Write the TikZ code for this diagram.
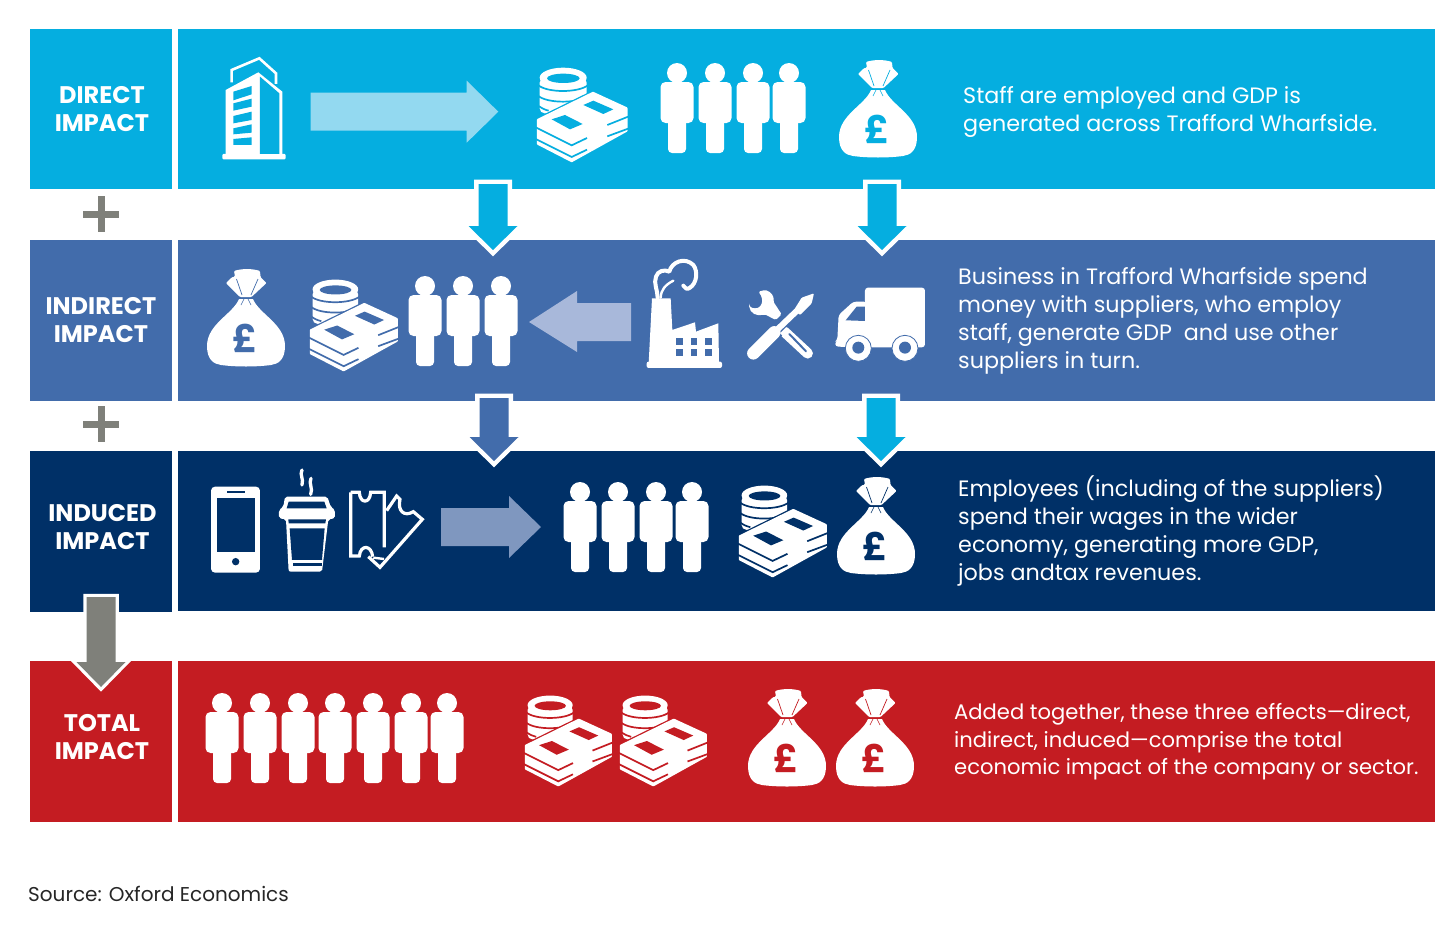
\documentclass[tikz,border=0pt]{standalone}
\usepackage{fontspec}
\setmainfont{Poppins}
\usetikzlibrary{calc}
\definecolor{cblue}{HTML}{05AEE0}
\definecolor{cmid}{HTML}{426CAB}
\definecolor{cnavy}{HTML}{003067}
\definecolor{cred}{HTML}{C41C22}
\definecolor{cgray}{HTML}{7F807A}
\definecolor{lightblue}{HTML}{93D9F0}
\definecolor{lightmid}{HTML}{A8B8DA}
\definecolor{lightnavy}{HTML}{7F97BF}
\tikzset{
  bar/.style={fill=#1,draw=none,inner sep=0,anchor=north west},
  lab/.style={font=\bfseries\fontsize{24}{28}\selectfont,text=white,align=center,inner sep=0},
  desc/.style={font=\fontsize{22.25}{27.8}\selectfont,text=white,align=left,inner sep=0,anchor=west},
  plusmark/.style={draw=cgray,line width=7pt},
  zoomed/.style={x=0.3333pt,y=-0.3333pt}
}
% person: origin at head centre
\newcommand\person[2]{\begin{scope}[shift={(#1,#2)}]
  \fill[white] (0,0) circle (10pt);
  \fill[white,rounded corners=5pt] (-16.5,9) rectangle (16.5,50);
  \fill[white,rounded corners=4pt] (-9,40) rectangle (9,80);
\end{scope}}
% money bag: origin at bottom centre
\newcommand\moneybag[4]{\begin{scope}[shift={(#1,#2)}]
  \fill[white] (-7,-67) .. controls (-13,-52) and (-39,-42) .. (-39,-20) .. controls (-39,-6) and (-32,-2) .. (-25,-1) .. controls (-10,1) and (10,1) .. (25,-1) .. controls (32,-2) and (39,-6) .. (39,-20) .. controls (39,-42) and (13,-52) .. (7,-67) -- cycle;
  \fill[white,rounded corners=1pt] (-12,-95) .. controls (-4,-97.5) and (6,-97.5) .. (14,-95) -- (14.5,-89) -- (20.5,-83) -- (5.5,-69) -- (-6,-69) -- (-20,-83) -- (-14.5,-88.5) -- (-11,-89.5) -- cycle;
  \draw[#3,line width=.7pt] (-9.5,-87) -- (-4,-71);
  \draw[#3,line width=.7pt] (12,-87) -- (5,-71);
  \draw[#3,line width=.8pt] (-7,-68) -- (7,-68);
  \draw[#3,line width=.6pt] (-2,-67) -- (-5,-61);
  \draw[#3,line width=.6pt] (2,-67) -- (5,-61);
  \node[inner sep=0,text=#3,font=\bfseries\fontsize{38}{38}\selectfont] (pound#4) at (-1,-28) {£};
\end{scope}}
% coins and notes: origin at top left; #4 scale
\newcommand\cash[4]{\begin{scope}[shift={(#1,#2)},x=#4*0.3333pt,y=-#4*0.3333pt]
  \fill[white,rounded corners=5pt] (8,38) rectangle (149,145);
  \fill[white] (78.5,38) ellipse [x radius=70.5,y radius=30];
  \fill[#3] (79,40) ellipse [x radius=49,y radius=14];
  \draw[#3,line width=1.7pt] (3,60) .. controls (30,84) and (125,84) .. (154,60);
  \draw[#3,line width=1.7pt] (3,92) .. controls (30,116) and (125,116) .. (154,92);
  \draw[#3,line width=1.7pt] (3,122) .. controls (15,130) and (25,135) .. (35,137);
  % notes: outline gap, then solid stack
  \draw[#3,line width=5pt,line join=round] (3,165) -- (168,84) -- (268,130) -- (268,197) -- (104,288) -- (3,236) -- cycle;
  \filldraw[fill=white,draw=white,line width=2.4pt,line join=round] (3,165) -- (168,84) -- (268,130) -- (268,197) -- (104,288) -- (3,236) -- cycle;
  % layer gaps
  \draw[#3,line width=1.7pt] (-6,186) -- (104,241) -- (150,219);
  \draw[#3,line width=1.7pt] (-6,221) -- (104,276) -- (150,254);
  \draw[#3,line width=1.7pt] (276,154) -- (211,180);
  \draw[#3,line width=1.7pt] (276,190) -- (211,214);
  % note windows
  \fill[#3] (44,163) -- (84,150) -- (137,177) -- (99,193) -- cycle;
  \fill[#3] (139,120) -- (169,107) -- (229,133) -- (199,147) -- cycle;
\end{scope}}
% block arrows between named coordinates: start, end, fill, shoulder distance, outline
\newcommand\blockdown[5]{%
  \path[preaction={draw=white,line width=#5,miter limit=10},fill=#3]
   ($(#1)+(-14.5,0)$) -- ($(#2)+(-14.5,-#4)$) -- ($(#2)+(-24.5,-#4)$) -- (#2) -- ($(#2)+(24.5,-#4)$) -- ($(#2)+(14.5,-#4)$) -- ($(#1)+(14.5,0)$) -- cycle;}
\begin{document}
\begin{tikzpicture}[x=1pt,y=-1pt]
\useasboundingbox (0,0) rectangle (1456,926);
\fill[white] (0,0) rectangle (1456,926);
% bars
\node[bar=cblue,minimum width=142pt,minimum height=160pt] (l1) at (30,29) {};
\node[bar=cblue,minimum width=1257pt,minimum height=160pt] (r1) at (178,29) {};
\node[bar=cmid,minimum width=142pt,minimum height=160.5pt] (l2) at (30,240) {};
\node[bar=cmid,minimum width=1257pt,minimum height=160.5pt] (r2) at (178,240) {};
\node[bar=cnavy,minimum width=142pt,minimum height=161pt] (l3) at (30,451) {};
\node[bar=cnavy,minimum width=1257pt,minimum height=160pt] (r3) at (178,451) {};
\node[bar=cred,minimum width=142pt,minimum height=161pt] (l4) at (30,661) {};
\node[bar=cred,minimum width=1257pt,minimum height=161pt] (r4) at (178,661) {};
% labels
\node[lab] (t1) at (102,109) {DIRECT\\IMPACT};
\node[lab] (t2) at (101,320) {INDIRECT\\IMPACT};
\node[lab] (t3) at (102.5,527) {INDUCED\\IMPACT};
\node[lab] (t4) at (102,737) {TOTAL\\IMPACT};
% plus marks
\foreach \py in {214,424}{
  \draw[plusmark] (83,\py) -- (119,\py);
  \draw[plusmark] (101,\py-18) -- (101,\py+18);}
% descriptions
\node[desc] (d1) at (963,112) {Staff are employed and GDP is\\generated across Trafford Wharfside.};
\node[desc] (d2) at (958,321) {Business in Trafford Wharfside spend\\money with suppliers, who employ\\staff, generate GDP~ and use other\\suppliers in turn.};
\node[desc] (d3) at (958,531) {Employees (including of the suppliers)\\spend their wages in the wider\\economy, generating more GDP,\\jobs andtax revenues.};
\node[desc,font=\fontsize{21.1}{27.5}\selectfont] (d4) at (954,742) {Added together, these three effects—direct,\\indirect, induced—comprise the total\\economic impact of the company or sector.};
\node[inner sep=0,anchor=west,font=\fontsize{20}{24}\selectfont,text=black!85] (src) at (28,894) {Source: Oxford Economics};
% horizontal arrows
\fill[lightblue] (310.7,92.7) -- (466.7,92.7) -- (466.7,80.7) -- (498.3,111.7) -- (466.7,142.7) -- (466.7,130.7) -- (310.7,130.7) -- cycle;
\fill[lightmid] (631,303) -- (577,303) -- (577,291) -- (529,322) -- (577,352) -- (577,341) -- (631,341) -- cycle;
\fill[lightnavy] (441,508) -- (509,508) -- (509,496) -- (541,527) -- (509,558) -- (509,546) -- (441,546) -- cycle;
% down arrows
\coordinate (a1s) at (493,184); \coordinate (a1e) at (493,250);
\coordinate (a2s) at (882,184); \coordinate (a2e) at (882,250);
\coordinate (a3s) at (494,398); \coordinate (a3e) at (494,461);
\coordinate (a4s) at (881,398); \coordinate (a4e) at (881,461);
\coordinate (a5s) at (101,597); \coordinate (a5e) at (101,687);
\blockdown{a1s}{a1e}{cblue}{24}{9pt}
\blockdown{a2s}{a2e}{cblue}{24}{9pt}
\blockdown{a3s}{a3e}{cmid}{24}{9pt}
\blockdown{a4s}{a4e}{cblue}{24}{9pt}
\blockdown{a5s}{a5e}{cgray}{25}{6.5pt}
% people
\foreach \px in {677,715,753,789} {\person{\px}{73}}
\foreach \px in {425,463,501} {\person{\px}{286}}
\foreach \px in {580,618,656,692} {\person{\px}{492}}
\foreach \px in {222,260,298,335,373,411,447} {\person{\px}{703}}
% bags
\moneybag{878}{157}{cblue}{a}
\moneybag{246}{366}{cmid}{b}
\moneybag{876}{574}{cnavy}{c}
\moneybag{787}{786}{cred}{d}
\moneybag{875}{786}{cred}{e}
% cash
\cash{537}{65}{cblue}{1}
\cash{310}{277}{cmid}{0.97}
\cash{739}{483}{cnavy}{0.97}
\cash{525}{693}{cred}{0.96}
\cash{620}{693}{cred}{0.96}
% building
\begin{scope}[shift={(200,40)},zoomed]
  \fill[white,rounded corners=1pt] (67,342) rectangle (257,358);
  \fill[white] (77,150) -- (175,97) -- (247,155) -- (247,345) -- (77,345) -- cycle;
  \fill[cblue] (180,110) -- (238,160) -- (238,342) -- (180,342) -- cycle;
  \fill[cblue] (100,155) -- (155,138) -- (155,163) -- (100,181) -- cycle;
  \fill[cblue] (100,190) -- (155,176) -- (155,200) -- (100,212) -- cycle;
  \fill[cblue] (100,228) -- (155,215) -- (155,240) -- (100,250) -- cycle;
  \fill[cblue] (100,265) -- (155,253) -- (155,278) -- (100,283) -- cycle;
  \fill[cblue] (100,297) -- (155,292) -- (155,315) -- (100,315) -- cycle;
  \draw[white,line width=2.6pt] (95,127) -- (95,90) -- (178,55) -- (228,100) -- (228,132);
\end{scope}
% factory and truck
\begin{scope}[shift={(640,40)},zoomed]
  \fill[white,rounded corners=2pt] (20,965) rectangle (246,984);
  \fill[white] (36,775) -- (92,775) -- (97,870) -- (165,847) -- (168,875) -- (235,850) -- (237,970) -- (26,970) -- cycle;
  \foreach \wx in {108,152,195}\foreach \wy in {895,928}{\fill[cmid] (\wx,\wy) rectangle +(20,20);}
  % truck
  \fill[white,rounded corners=3pt] (675,743) rectangle (855,922);
  \fill[white,rounded corners=3pt] (680,785) -- (640,785) -- (596,825) -- (592,900) -- (586,905) -- (586,920) -- (680,922) -- cycle;
  \fill[cmid] (675,800) -- (650,800) -- (617,841) -- (675,843) -- cycle;
  \fill[cmid] (600,923) rectangle (855,942);
  \foreach \wx in {655,795}{
    \filldraw[fill=white,draw=cmid,line width=.8pt] (\wx,925) circle (13pt);
    \fill[cmid] (\wx,923) circle (6pt);}
\end{scope}
% smoke
\begin{scope}[shift={(645,255)},zoomed]
  \draw[white,line width=4pt,line join=round,line cap=round] (38,128) .. controls (38,105) and (25,85) .. (33,65) .. controls (38,48) and (58,42) .. (73,50) .. controls (80,20) and (120,5) .. (145,30) .. controls (160,50) and (155,85) .. (135,98) .. controls (128,105) and (118,100) .. (115,92);
  \draw[white,line width=2.4pt,line cap=round] (47,128) .. controls (48,105) and (60,90) .. (85,77);
\end{scope}
% tools
\begin{scope}[shift={(745,285)},zoomed]
  \fill[white,rounded corners=1.5pt] (12,60) .. controls (20,72) and (40,72) .. (48,60) .. controls (54,48) and (50,32) .. (40,20) -- (60,15) .. controls (78,20) and (88,35) .. (85,50) -- (110,88) -- (92,105) -- (60,88) .. controls (35,95) and (15,85) .. (12,60) -- cycle;
  \draw[white,line width=10.5pt,line cap=round] (118,140) -- (188,205);
  \draw[cmid,line width=2pt,line cap=round] (133,147) -- (183,199);
  \draw[cmid,line width=15.5pt] (45,185) -- (95,135);
  \draw[cmid,line width=9pt] (95,135) -- (130,100);
  \draw[white,line width=12.5pt,line cap=round] (25,205) -- (88,142);
  \draw[white,line width=6pt] (85,145) -- (155,78);
  \fill[white,rounded corners=1pt] (147,75) -- (170,38) -- (207,25) -- (200,55) -- (165,90) -- cycle;
\end{scope}
% phone, cup, tickets
\begin{scope}[shift={(200,460)},zoomed]
  \fill[white,rounded corners=4pt] (33,80) rectangle (180,338);
  \fill[cnavy] (50,113) rectangle (165,275);
  \fill[cnavy] (80,92) rectangle (135,99);
  \fill[cnavy] (107,305) circle (3.7pt);
  % cup
  \fill[white,rounded corners=2pt] (255,110) -- (382,110) -- (392,140) -- (405,150) -- (405,175) -- (385,178) -- (366,335) -- (266,335) -- (258,178) -- (237,175) -- (237,150) -- (250,140) -- cycle;
  \fill[cnavy] (266,125) -- (373,125) -- (380,145) -- (260,145) -- cycle;
  \fill[cnavy] (265,178) -- (378,178) -- (376,190) -- (266,190) -- cycle;
  \fill[cnavy] (269,205) -- (374,205) -- (366,300) -- (276,300) -- cycle;
  \fill[cnavy] (278,310) rectangle (365,317);
  \draw[white,line width=3.3pt,line cap=round] (306,30) .. controls (298,45) and (312,55) .. (306,75);
  \draw[white,line width=3.3pt,line cap=round] (333,55) .. controls (325,70) and (340,85) .. (332,103);
  % tickets
  \draw[white,line width=3.2pt,miter limit=10] (452,97) -- (478,97) .. controls (480,132) and (510,132) .. (512,97) -- (553,97) -- (553,262);
  \draw[white,line width=3.2pt] (452,97) -- (452,288) -- (478,288) .. controls (482,252) and (515,255) .. (518,290);
  \draw[white,line width=3.2pt,miter limit=10] (560,152) -- (590,108) -- (600,118) .. controls (592,152) and (612,172) .. (640,155) -- (667,178) -- (540,322) -- (505,290);
  \draw[white,line width=2.4pt] (520,293) -- (552,297);
\end{scope}
\end{tikzpicture}
\end{document}
